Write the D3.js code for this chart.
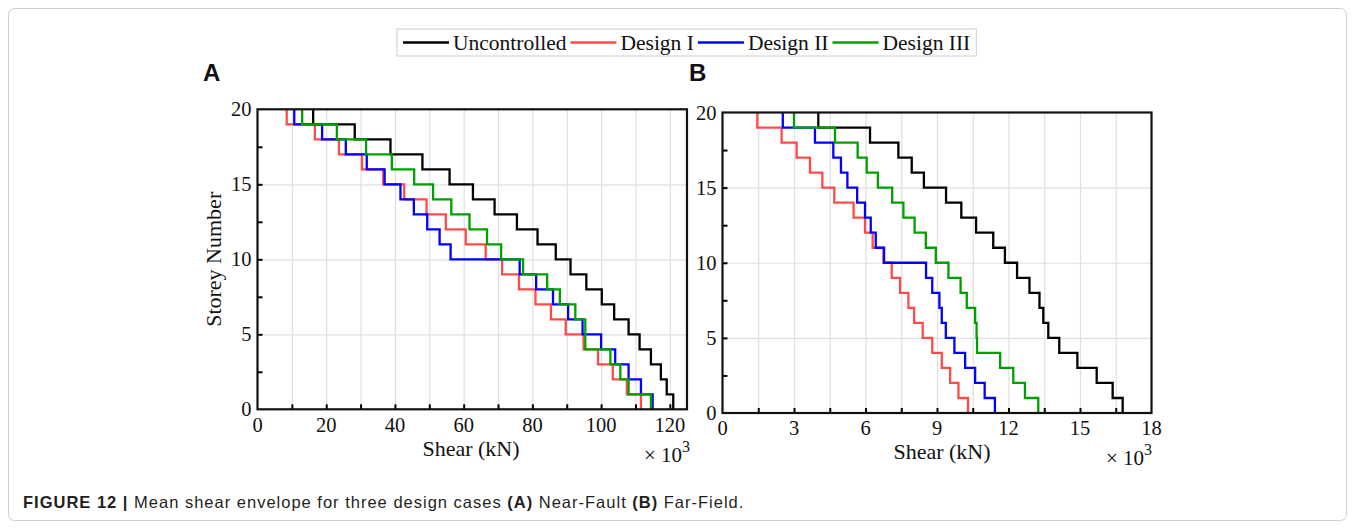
<!DOCTYPE html>
<html>
<head>
<meta charset="utf-8">
<script src="https://cdn.jsdelivr.net/npm/d3@7"></script>
<style>
  html, body { margin: 0; padding: 0; background: #fff; }
  svg { display: block; }
  .serif { font-family: 'Liberation Serif', 'Times New Roman', serif; fill: #111; }
</style>
</head>
<body>
<div id="chart"></div>
<script>
// shear per storey, storey 1 (bottom) to storey 20 (top), x 10^3 kN
const nearUncontrolled = [121.0, 119.1, 117.4, 114.5, 111.2, 108.0, 103.8, 100.2, 95.7, 91.1, 86.8, 81.5, 75.5, 69.0, 62.7, 55.9, 48.0, 38.7, 28.3, 16.2];
const nearDesign1 = [111.6, 107.5, 103.4, 99.1, 94.9, 89.7, 85.4, 80.9, 76.1, 71.2, 66.4, 60.6, 54.8, 49.2, 42.7, 36.6, 30.4, 23.7, 16.7, 8.5];
const nearDesign2 = [115.0, 111.6, 108.0, 104.1, 100.0, 94.6, 90.4, 86.0, 81.1, 76.3, 56.2, 53.0, 49.4, 45.5, 41.6, 37.0, 31.8, 25.7, 18.8, 10.7];
const nearDesign3 = [114.5, 108.0, 105.6, 102.7, 95.4, 95.4, 92.5, 88.0, 84.3, 77.3, 70.9, 66.8, 61.7, 56.4, 51.1, 45.6, 39.1, 31.6, 23.1, 13.0];

const farUncontrolled = [16.79, 16.37, 15.7, 14.89, 14.13, 13.67, 13.46, 13.3, 12.88, 12.36, 11.85, 11.36, 10.64, 10.02, 9.38, 8.45, 7.94, 7.38, 6.19, 4.02];
const farDesign1 = [10.3, 9.9, 9.55, 9.2, 8.8, 8.4, 8.04, 7.8, 7.45, 7.1, 6.75, 6.3, 5.98, 5.5, 4.69, 4.19, 3.67, 3.11, 2.48, 1.46];
const farDesign2 = [11.43, 11.0, 10.6, 10.18, 9.73, 9.37, 9.2, 9.1, 8.8, 8.54, 6.78, 6.43, 6.22, 5.98, 5.65, 5.24, 4.97, 4.65, 3.88, 2.53];
const farDesign3 = [13.25, 12.69, 12.2, 11.65, 10.68, 10.66, 10.6, 10.25, 9.99, 9.48, 8.95, 8.53, 8.06, 7.59, 7.12, 6.52, 6.05, 5.67, 4.72, 3.0];

const seriesNames = ['Uncontrolled', 'Design I', 'Design II', 'Design III'];
const seriesColors = ['#000000', '#ff4a4a', '#0000ff', '#00a000'];

const nearXTicks = [0, 20, 40, 60, 80, 100, 120];
const farXTicks = [0, 3, 6, 9, 12, 15, 18];
const yTicks = [0, 5, 10, 15, 20];

const W = 1355, H = 529;

const svg = d3.select('#chart').append('svg')
  .attr('width', W)
  .attr('height', H);

// outer figure frame
svg.append('rect')
  .attr('x', 8.5).attr('y', 8.5)
  .attr('width', W - 17).attr('height', H - 17)
  .attr('rx', 6)
  .attr('fill', 'none')
  .attr('stroke', '#cfcfcf')
  .attr('stroke-width', 1);

const panels = [
  { label: 'A', left: 257.5, right: 687, top: 109.3, bottom: 409.3, xMax: 125, minorStep: 10,
    xTicks: nearXTicks, series: [nearUncontrolled, nearDesign1, nearDesign2, nearDesign3],
    labelX: 203, xTitleX: 471, xTitleY: 456, expX: 690, expY: 462, yTitle: true, tickLabelY: 432 },
  { label: 'B', left: 722.5, right: 1151.5, top: 112.5, bottom: 413, xMax: 18, minorStep: 1.5,
    xTicks: farXTicks, series: [farUncontrolled, farDesign1, farDesign2, farDesign3],
    labelX: 689, xTitleX: 942, xTitleY: 459, expX: 1152, expY: 465, yTitle: false, tickLabelY: 435 }
];

panels.forEach((p) => {
  const x = d3.scaleLinear().domain([0, p.xMax]).range([p.left, p.right]);
  const y = d3.scaleLinear().domain([0, 20]).range([p.bottom, p.top]);
  const h = p.bottom - p.top;
  const g = svg.append('g');

  const minorX = d3.range(0, p.xMax + 1e-9, p.minorStep).filter((v) => v > 0 && v < p.xMax);

  // grid
  g.append('g')
    .attr('transform', `translate(0,${p.bottom})`)
    .call(d3.axisBottom(x).tickValues(minorX).tickSize(-h).tickFormat(''))
    .call((s) => s.select('.domain').remove())
    .call((s) => s.selectAll('line').attr('stroke', '#e0e0e0').attr('stroke-width', 1.2));
  g.append('g')
    .attr('transform', `translate(${p.left},0)`)
    .call(d3.axisLeft(y).tickValues([5, 10, 15]).tickSize(-(p.right - p.left)).tickFormat(''))
    .call((s) => s.select('.domain').remove())
    .call((s) => s.selectAll('line').attr('stroke', '#e0e0e0').attr('stroke-width', 1.2));

  // step lines
  const line = d3.line().x((d) => x(d[0])).y((d) => y(d[1]));
  p.series.forEach((vals, i) => {
    const pts = [];
    vals.forEach((v, k) => { pts.push([v, k]); pts.push([v, k + 1]); });
    g.append('path')
      .attr('d', line(pts))
      .attr('fill', 'none')
      .attr('stroke', seriesColors[i])
      .attr('stroke-width', 2.3)
      .attr('stroke-linejoin', 'miter');
  });

  // inward ticks
  g.append('g')
    .attr('transform', `translate(0,${p.bottom})`)
    .call(d3.axisBottom(x).tickValues(minorX).tickSize(-5).tickFormat(''))
    .call((s) => s.select('.domain').remove())
    .call((s) => s.selectAll('line').attr('stroke', '#000').attr('stroke-width', 2));
  g.append('g')
    .attr('transform', `translate(${p.left},0)`)
    .call(d3.axisLeft(y).tickValues(d3.range(2.5, 20, 2.5)).tickSize(-5).tickFormat(''))
    .call((s) => s.select('.domain').remove())
    .call((s) => s.selectAll('line').attr('stroke', '#000').attr('stroke-width', 2));

  // frame
  g.append('rect')
    .attr('x', p.left).attr('y', p.top)
    .attr('width', p.right - p.left).attr('height', h)
    .attr('fill', 'none')
    .attr('stroke', '#111')
    .attr('stroke-width', 2.2);

  // tick labels
  g.selectAll('.xt').data(p.xTicks).join('text')
    .attr('class', 'serif')
    .attr('x', (d) => x(d))
    .attr('y', p.tickLabelY)
    .attr('text-anchor', 'middle')
    .attr('font-size', 20.5)
    .text((d) => d);
  g.selectAll('.yt').data(yTicks).join('text')
    .attr('class', 'serif')
    .attr('x', p.left - 6)
    .attr('y', (d) => y(d) + 7)
    .attr('text-anchor', 'end')
    .attr('font-size', 20.5)
    .text((d) => d);

  // axis titles
  g.append('text')
    .attr('class', 'serif')
    .attr('x', p.xTitleX).attr('y', p.xTitleY)
    .attr('text-anchor', 'middle')
    .attr('font-size', 22)
    .text('Shear (kN)');
  const ex = g.append('text')
    .attr('class', 'serif')
    .attr('x', p.expX).attr('y', p.expY)
    .attr('text-anchor', 'end')
    .attr('font-size', 21);
  ex.append('tspan').text('× 10');
  ex.append('tspan').attr('dy', -10).attr('font-size', 16).text('3');

  if (p.yTitle) {
    g.append('text')
      .attr('class', 'serif')
      .attr('transform', `translate(221,${(p.top + p.bottom) / 2}) rotate(-90)`)
      .attr('text-anchor', 'middle')
      .attr('font-size', 22)
      .text('Storey Number');
  }

  // panel letter
  svg.append('text')
    .attr('x', p.labelX).attr('y', 81)
    .attr('font-family', "'Liberation Sans', Arial, sans-serif")
    .attr('font-weight', 'bold')
    .attr('font-size', 24)
    .attr('fill', '#111')
    .text(p.label);
});

// legend
const legend = svg.append('g');
const legendBox = legend.append('rect')
  .attr('y', 29).attr('height', 27)
  .attr('fill', '#fff')
  .attr('stroke', '#cccccc')
  .attr('stroke-width', 1);
let lx = 403;
seriesNames.forEach((name, i) => {
  legend.append('line')
    .attr('x1', lx).attr('x2', lx + 46)
    .attr('y1', 42.5).attr('y2', 42.5)
    .attr('stroke', seriesColors[i])
    .attr('stroke-width', 2.3);
  const t = legend.append('text')
    .attr('class', 'serif')
    .attr('x', lx + 50).attr('y', 50)
    .attr('font-size', 21.5)
    .text(name);
  lx += 50 + t.node().getComputedTextLength() + 4;
});
legendBox.attr('x', 397).attr('width', lx - 397 + 2);

// caption
const cap = svg.append('text')
  .attr('x', 23).attr('y', 508)
  .attr('font-family', "'Liberation Sans', Arial, sans-serif")
  .attr('font-size', 16.5)
  .attr('letter-spacing', 1.0)
  .attr('fill', '#231f20');
const parts = [
  ['FIGURE 12 |', true],
  [' Mean shear envelope for three design cases ', false],
  ['(A)', true],
  [' Near-Fault ', false],
  ['(B)', true],
  [' Far-Field.', false]
];
parts.forEach(([txt, bold]) => {
  cap.append('tspan')
    .attr('font-weight', bold ? 'bold' : 'normal')
    .text(txt);
});
</script>
</body>
</html>
